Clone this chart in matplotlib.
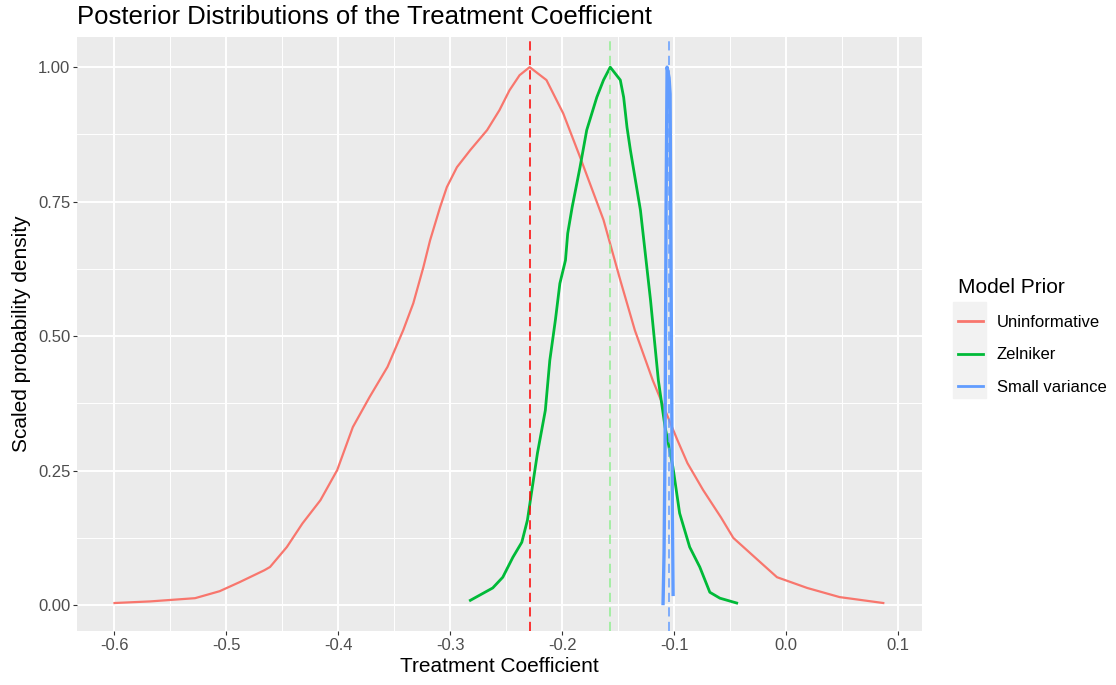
import matplotlib
matplotlib.use('Agg')
import matplotlib.pyplot as plt
from matplotlib.lines import Line2D
from matplotlib.patches import Rectangle

plt.rcParams['font.family'] = ['Liberation Sans', 'DejaVu Sans']

# scaled posterior densities
unif_x = [-0.600, -0.568, -0.528, -0.506, -0.488, -0.466, -0.461, -0.446, -0.432, -0.416,
          -0.401, -0.387, -0.372, -0.356, -0.342, -0.333, -0.324, -0.318, -0.309, -0.303,
          -0.294, -0.282, -0.267, -0.256, -0.247, -0.238, -0.229, -0.214, -0.199, -0.184,
          -0.163, -0.148, -0.135, -0.119, -0.097, -0.088, -0.074, -0.058, -0.047, -0.023,
          -0.008, 0.019, 0.048, 0.087]
unif_y = [0.004, 0.007, 0.013, 0.026, 0.043, 0.065, 0.071, 0.108, 0.152, 0.195,
          0.251, 0.331, 0.387, 0.443, 0.511, 0.561, 0.628, 0.678, 0.740, 0.777,
          0.814, 0.846, 0.883, 0.920, 0.957, 0.985, 1.000, 0.976, 0.914, 0.833,
          0.716, 0.604, 0.511, 0.418, 0.307, 0.264, 0.214, 0.163, 0.125, 0.080,
          0.052, 0.032, 0.015, 0.004]

zel_x = [-0.282, -0.262, -0.253, -0.244, -0.236, -0.231, -0.227, -0.222, -0.215, -0.211,
         -0.206, -0.202, -0.197, -0.195, -0.191, -0.184, -0.178, -0.169, -0.163, -0.157,
         -0.148, -0.145, -0.142, -0.139, -0.130, -0.121, -0.114, -0.108, -0.101, -0.095,
         -0.086, -0.077, -0.068, -0.059, -0.044]
zel_y = [0.009, 0.032, 0.052, 0.089, 0.117, 0.158, 0.214, 0.283, 0.362, 0.455,
         0.530, 0.598, 0.641, 0.691, 0.740, 0.814, 0.883, 0.944, 0.976, 1.000,
         0.976, 0.944, 0.888, 0.846, 0.734, 0.567, 0.418, 0.331, 0.257, 0.171,
         0.108, 0.071, 0.024, 0.013, 0.004]

small_x = [-0.1098, -0.1089, -0.1080, -0.1071, -0.1062, -0.1053, -0.1044, -0.1035,
           -0.1026, -0.1017, -0.1008]
small_y = [0.003, 0.097, 0.30, 0.74, 1.00, 0.99, 0.98, 0.95, 0.60, 0.26, 0.02]

# posterior modes
mode_unif = -0.229
mode_zel = -0.157
mode_small = -0.1045

labels = ['Uninformative', 'Zelniker', 'Small variance']
colors = ['#F8766D', '#00BA38', '#619CFF']

x_ticks = [-0.6, -0.5, -0.4, -0.3, -0.2, -0.1, 0.0, 0.1]
y_ticks = [0.0, 0.25, 0.5, 0.75, 1.0]

W, H = 1116, 685
fig = plt.figure(figsize=(W / 100, H / 100), dpi=100)
ax = fig.add_axes([77 / W, 1 - 631 / H, (922 - 77) / W, (631 - 37) / H])
ax.set_facecolor('#EBEBEB')
for s in ax.spines.values():
    s.set_visible(False)

ax.plot(unif_x, unif_y, color=colors[0], lw=1.6, zorder=3)
ax.plot(zel_x, zel_y, color=colors[1], lw=2.0, zorder=3)
ax.plot(small_x, small_y, color=colors[2], lw=2.4, zorder=3)

ax.axvline(mode_unif, color='#FF0000', lw=1.1, ls=(0, (6, 3.5)), zorder=4)
ax.axvline(mode_zel, color='#90EE90', lw=1.1, ls=(0, (6, 3.5)), zorder=4)
ax.axvline(mode_small, color=colors[2], lw=1.1, ls=(0, (6, 3.5)), zorder=4)

ax.set_xticks(x_ticks)
ax.set_xticklabels(['-0.6', '-0.5', '-0.4', '-0.3', '-0.2', '-0.1', '0.0', '0.1'])
ax.set_yticks(y_ticks)
ax.set_yticklabels(['0.00', '0.25', '0.50', '0.75', '1.00'])
ax.set_xticks([-0.55, -0.45, -0.35, -0.25, -0.15, -0.05, 0.05], minor=True)
ax.set_yticks([0.125, 0.375, 0.625, 0.875], minor=True)
# limits after ticks, set_ticks can widen the view
ax.set_xlim(-0.6335, 0.1216)
ax.set_ylim(-0.048, 1.056)
ax.grid(which='major', color='white', lw=1.4, zorder=0)
ax.grid(which='minor', color='white', lw=0.7, zorder=0)
ax.set_axisbelow(True)
ax.tick_params(which='major', length=2.8, width=0.8, color='#333333',
               labelcolor='#4D4D4D', labelsize=12, pad=2)
ax.tick_params(which='minor', length=0)

ax.set_xlabel('Treatment Coefficient', fontsize=15, labelpad=3)
ax.set_ylabel('Scaled probability density', fontsize=15, labelpad=5)
fig.text(77 / W, 1 - 17 / H, 'Posterior Distributions of the Treatment Coefficient',
         fontsize=18.5, ha='left', va='center')

# legend
fig.add_artist(Rectangle((953 / W, 1 - 398 / H), 33 / W, 96 / H,
                         transform=fig.transFigure, color='#F2F2F2', zorder=0))
handles = [Line2D([], [], color=c, lw=2.0) for c in colors]
leg = fig.legend(handles, labels, title='Model Prior', loc='upper left',
                 bbox_to_anchor=(950 / W, 1 - 270 / H), frameon=False,
                 fontsize=12, title_fontsize=15, handlelength=1.5,
                 handletextpad=0.8, labelspacing=1.05, borderpad=0,
                 alignment='left')

fig.savefig('out.png', dpi=100)
